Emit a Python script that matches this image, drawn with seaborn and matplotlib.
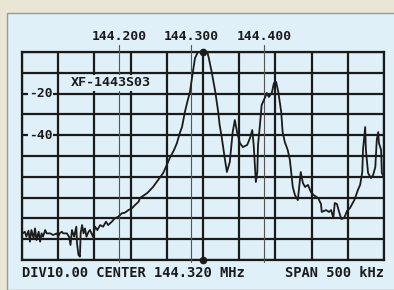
import matplotlib
matplotlib.use("Agg")
import matplotlib.pyplot as plt
import matplotlib.transforms as mtransforms
from matplotlib.patches import Rectangle
import numpy as np
import pandas as pd
import seaborn as sns

# spectrum analyser trace of the XF-1443S03 crystal filter
freq_mhz = [
    144.067, 144.070, 144.072, 144.075, 144.077, 144.079, 144.082, 144.084, 144.086, 144.089,
    144.091, 144.093, 144.095, 144.098, 144.100, 144.105, 144.109, 144.114, 144.116, 144.118,
    144.121, 144.123, 144.128, 144.131, 144.133, 144.135, 144.138, 144.141, 144.142, 144.144,
    144.146, 144.147, 144.149, 144.151, 144.153, 144.155, 144.158, 144.160, 144.162, 144.164,
    144.167, 144.170, 144.174, 144.178, 144.182, 144.185, 144.190, 144.194, 144.199, 144.204,
    144.208, 144.213, 144.218, 144.222, 144.227, 144.229, 144.239, 144.247, 144.254, 144.261,
    144.266, 144.270, 144.276, 144.280, 144.284, 144.287, 144.291, 144.295, 144.298, 144.302,
    144.305, 144.309, 144.315, 144.319, 144.322, 144.324, 144.328, 144.333, 144.337, 144.339,
    144.342, 144.346, 144.349, 144.353, 144.357, 144.360, 144.363, 144.367, 144.371, 144.377,
    144.381, 144.384, 144.386, 144.389, 144.391, 144.392, 144.395, 144.397, 144.402, 144.404,
    144.407, 144.411, 144.414, 144.417, 144.420, 144.424, 144.426, 144.429, 144.433, 144.436,
    144.440, 144.443, 144.447, 144.451, 144.454, 144.457, 144.461, 144.465, 144.469, 144.475,
    144.479, 144.480, 144.486, 144.490, 144.493, 144.496, 144.498, 144.501, 144.504, 144.507,
    144.511, 144.515, 144.519, 144.525, 144.530, 144.533, 144.536, 144.537, 144.540, 144.541,
    144.544, 144.548, 144.551, 144.554, 144.556, 144.558, 144.559, 144.562, 144.563, 144.566,
]
level_db = [
    -87.2, -86.4, -88.8, -85.9, -91.2, -85.6, -89.6, -84.8, -90.4, -86.4,
    -91.2, -87.2, -88.8, -85.6, -87.2, -87.2, -88.0, -87.2, -88.8, -87.2,
    -86.4, -87.2, -87.2, -88.8, -92.8, -85.6, -88.8, -84.0, -92.0, -97.6,
    -98.4, -87.2, -83.2, -87.2, -84.8, -88.8, -86.4, -85.6, -87.2, -88.8,
    -84.0, -85.6, -83.2, -84.0, -81.6, -83.2, -81.6, -80.0, -79.2, -77.5,
    -77.3, -76.0, -75.1, -73.6, -72.0, -70.2, -67.8, -64.9, -61.5, -58.2,
    -54.3, -51.0, -47.1, -43.8, -38.9, -36.1, -28.8, -23.1, -19.2, -9.6,
    -2.9, 0.0, 0.0, 0.0, 0.0, -2.9, -9.6, -19.2, -28.8, -35.1,
    -41.3, -51.0, -57.7, -52.9, -38.5, -32.7, -38.5, -43.8, -45.7, -44.7,
    -41.3, -37.5, -44.7, -62.5, -57.7, -44.7, -33.7, -25.5, -21.6, -19.7,
    -21.6, -19.7, -14.9, -14.4, -19.2, -28.8, -38.5, -43.3, -47.1, -51.9,
    -64.9, -68.8, -71.2, -57.7, -63.0, -64.9, -63.9, -67.3, -68.8, -70.2,
    -73.1, -76.9, -76.0, -76.9, -76.0, -79.8, -72.6, -73.1, -76.9, -80.3,
    -79.8, -76.4, -75.0, -71.2, -66.3, -63.9, -57.7, -47.1, -36.1, -47.1,
    -58.2, -60.6, -59.1, -55.3, -42.3, -38.5, -43.8, -47.1, -58.2, -60.1,
]

span_mhz = (144.066, 144.566)
level_range = (-100, 0)
marker_mhz = [144.200, 144.300, 144.400]
marker_labels = ["144.200", "144.300", "144.400"]
level_labels = [-20, -40]
filter_name = "XF-1443S03"
footer_left = "DIV10.00 CENTER 144.320 MHz"
footer_right = "SPAN 500 kHz"

ink = "#1b1b1b"
panel = "#dff0f8"
page = "#e9e6d6"

sns.set_style("white")
plt.rcParams["font.family"] = ["DejaVu Sans Mono", "DejaVu Sans"]

fig = plt.figure(figsize=(3.94, 2.90), dpi=100)
fig.patch.set_facecolor(page)
fig.patches.append(Rectangle((7 / 394, 0), 1.0, 277 / 290, transform=fig.transFigure,
                             facecolor=panel, edgecolor="#9a9a9a", lw=1.0, zorder=-10))

ax = fig.add_axes([22 / 394, 30 / 290, 362 / 394, 208 / 290])
ax.set_facecolor("none")

df = pd.DataFrame({"freq": freq_mhz, "level": level_db})
sns.lineplot(data=df, x="freq", y="level", ax=ax, color=ink, lw=1.3,
             sort=False, estimator=None, zorder=5, clip_on=False)

ax.set_xlim(*span_mhz)
ax.set_ylim(*level_range)
ax.set_xticks(np.linspace(span_mhz[0], span_mhz[1], 11))
ax.set_yticks(np.arange(level_range[0], level_range[1] + 1, 10))
ax.grid(True, color=ink, lw=1.6)
ax.tick_params(length=0, labelbottom=False, labelleft=False)
ax.set_xlabel("")
ax.set_ylabel("")
for sp in ax.spines.values():
    sp.set_color(ink)
    sp.set_linewidth(1.6)

# frequency markers written above the screen
xtrans = ax.get_xaxis_transform()
for m, lab in zip(marker_mhz, marker_labels):
    ax.plot([m, m], [-0.01, 1.035], transform=xtrans, color="#555555", lw=0.8,
            clip_on=False, zorder=3)
    ax.annotate(lab, (m, 1.0), xycoords=xtrans, xytext=(0, 11.5),
                textcoords="offset points", ha="center", va="center",
                fontsize=9.4, fontweight="bold", color=ink)

# centre marker dots
centre = np.mean(span_mhz)
ax.plot([centre, centre], [0.0, 1.0], transform=xtrans, ls="none", marker="o",
        ms=4.5, color=ink, clip_on=False, zorder=6)

# level labels inside the first column
ytrans = mtransforms.blended_transform_factory(ax.transAxes, ax.transData)
for lv in level_labels:
    ax.text(0.052, lv, str(lv), transform=ytrans, ha="center", va="center",
            fontsize=9.4, fontweight="bold", color=ink, zorder=4,
            bbox=dict(facecolor=panel, edgecolor="none", pad=0.6))

ax.text(0.246, 0.851, filter_name, transform=ax.transAxes, ha="center", va="center",
        fontsize=9.6, fontweight="bold", color=ink, zorder=4,
        bbox=dict(facecolor=panel, edgecolor="none", pad=1.0))

ax.annotate(footer_left, (0.0, 0.0), xycoords="axes fraction", xytext=(0, -9.5),
            textcoords="offset points", ha="left", va="center",
            fontsize=9.9, fontweight="bold", color=ink)
ax.annotate(footer_right, (1.0, 0.0), xycoords="axes fraction", xytext=(0, -9.5),
            textcoords="offset points", ha="right", va="center",
            fontsize=9.9, fontweight="bold", color=ink)

fig.savefig("out.png", dpi=100, facecolor=page)
